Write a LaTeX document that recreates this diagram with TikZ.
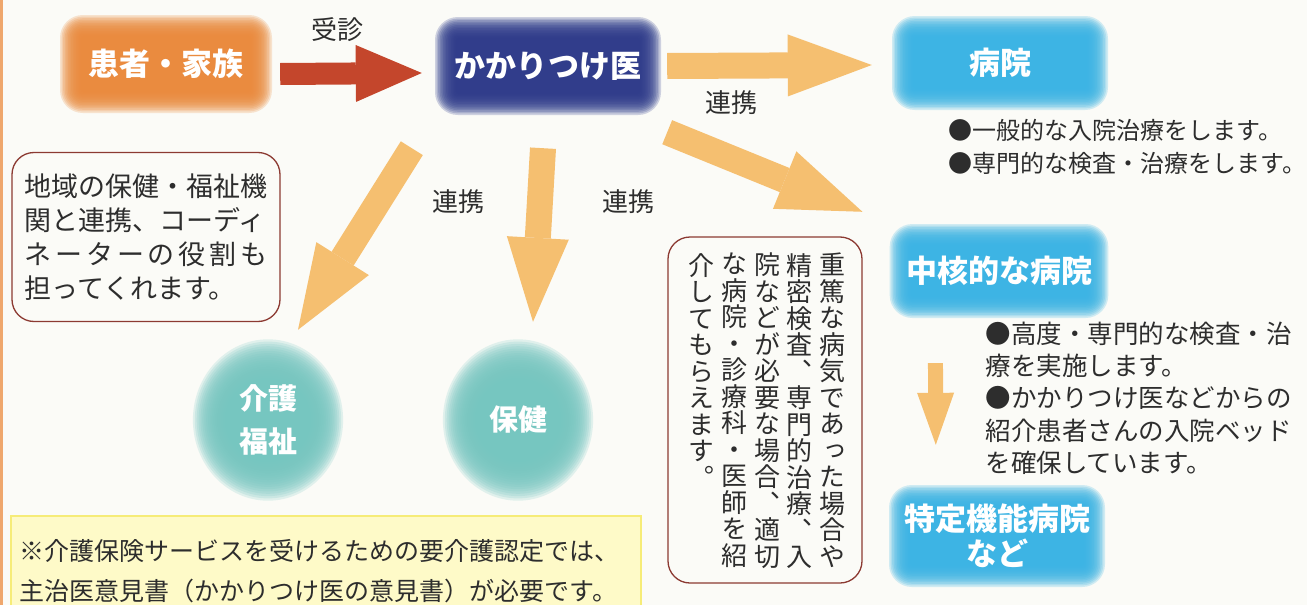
\documentclass[tikz,border=0pt]{standalone}
\usepackage{fontspec}
\setmainfont{Noto Sans CJK JP}
\newfontfamily\tate[RawFeature=+vert]{Noto Sans CJK JP}
\usepackage{tikz}
\usetikzlibrary{arrows.meta,positioning,calc,backgrounds}
\definecolor{pagebg}{RGB}{251,251,247}
\definecolor{famorange}{RGB}{234,138,60}
\definecolor{docnavy}{RGB}{44,58,138}
\definecolor{hospblue}{RGB}{58,180,228}
\definecolor{careteal}{RGB}{118,198,192}
\definecolor{linkorange}{RGB}{245,191,112}
\definecolor{visitred}{RGB}{196,70,44}
\definecolor{noteborder}{RGB}{140,58,50}
\definecolor{memofill}{RGB}{254,250,200}
\definecolor{memoborder}{RGB}{246,236,120}
\definecolor{inkgray}{RGB}{45,45,45}
% soft-edged fill behind a box or a disc
\newcommand{\glowbox}[2]{%
  \begin{scope}[on background layer]
    \foreach \k in {8,...,-5}{
      \pgfmathsetmacro{\rr}{max(3,10+1.6*\k)}
      \fill[#2,opacity=0.22,rounded corners=\rr pt]
        ([shift={(-1.6*\k,1.6*\k)}]#1.south west) rectangle ([shift={(1.6*\k,-1.6*\k)}]#1.north east);
    }
  \end{scope}}
\newcommand{\glowdisc}[2]{%
  \begin{scope}[on background layer]
    \foreach \k in {9,...,-8}{
      \fill[#2,opacity=0.2] (#1) ellipse ({58+1.9*\k} and {60+2.3*\k});
    }
  \end{scope}}
% one column of vertical text, top to bottom
\makeatletter
\newcommand{\tatecol}[1]{\@tfor\tatech:=#1\do{\tatech\\}}
\makeatother

\begin{document}
\begin{tikzpicture}[x=1pt,y=-1pt,
  pill/.style={
    rounded corners=8pt,
    minimum width=188,
    minimum height=68,
    text=white,
    align=center,
    font=\bfseries\fontsize{31}{35}\selectfont
  },
  familybox/.style={pill,minimum width=186,minimum height=72},
  doctorbox/.style={pill,minimum width=200,minimum height=72},
  hospbox/.style={pill,minimum width=190},
  disc/.style={circle,minimum size=116,text=white,align=center,
    font=\bfseries\fontsize{29}{43}\selectfont},
  note/.style={draw=noteborder,line width=1.3pt,rounded corners=22pt,fill=pagebg,text=inkgray},
  memo/.style={draw=memoborder,line width=1.5pt,fill=memofill,text=inkgray},
  label/.style={text=inkgray,font=\fontsize{26}{30}\selectfont},
  body/.style={text=inkgray,align=left},
  tatetext/.style={text=inkgray,anchor=north,align=center,inner sep=0pt,
    font=\tate\fontsize{26}{26.5}\selectfont},
  flow/.style={draw=linkorange,line width=26pt,-{Triangle[length=84pt,width=62pt,line width=0pt]}},
  visit/.style={draw=visitred,line width=22pt,-{Triangle[length=66pt,width=57pt,line width=0pt]}},
  onward/.style={draw=linkorange,line width=15pt,-{Triangle[length=52pt,width=37pt,line width=0pt]}}
]
\begin{scope}[on background layer]
  \fill[pagebg] (0,0) rectangle (1307,605);
  \fill[famorange!75] (0,0) rectangle (3,605);
\end{scope}
\useasboundingbox (0,0) rectangle (1307,605);

\node[familybox] (family) at (166,64) {患者・家族};
\node[doctorbox] (doctor) at (548,66) {かかりつけ医};
\node[hospbox] (hosp) at (1000,63) {病院};
\node[hospbox,minimum width=192] (core) at (999,271) {中核的な病院};
\node[hospbox,minimum height=76,inner sep=2pt] (special) at (997,536) {特定機能病院\\など};
\node[disc] (care) at (268,420) {介護\\福祉};
\node[disc] (health) at (518,420) {保健};
\glowbox{family}{famorange}
\glowbox{doctor}{docnavy}
\glowbox{hosp}{hospblue}
\glowbox{core}{hospblue}
\glowbox{special}{hospblue}
\glowdisc{care}{careteal}
\glowdisc{health}{careteal}

\node[label] (visitlabel) at (337,30) {受診};
\node[label] (linkhosp) at (731,103) {連携};
\node[label] (linkcare) at (458,202) {連携};
\node[label] (linkhealth) at (628,202) {連携};

\node[note,minimum width=268,minimum height=169,align=left,
  font=\fontsize{27}{34}\selectfont] (localnote) at (146,237)
  {地域の保健・福祉機\\関と連携、コーディ\\\makebox[243pt][s]{ネ\hfill ー\hfill タ\hfill ー\hfill の\hfill 役\hfill 割\hfill も}\\担ってくれます。};

% vertical note, columns read right to left
\node[note,minimum width=194,minimum height=346] (referral) at (765,410) {};
\node[tatetext] (referral1) at (832,253) {\tatecol{重篤な病気であった場合や}};
\node[tatetext] (referral2) at (799,253) {\tatecol{精密検査、専門的治療、入}};
\node[tatetext] (referral3) at (767,253) {\tatecol{院などが必要な場合、適切}};
\node[tatetext] (referral4) at (734,253) {\tatecol{な病院・診療科・医師を紹}};
\node[tatetext] (referral5) at (701,253) {\tatecol{介してもらえます。}};

\node[body,anchor=west,font=\fontsize{24}{33}\selectfont] (hospnote) at (945,147)
  {●一般的な入院治療をします。\\●専門的な検査・治療をします。};
\node[body,anchor=west,font=\fontsize{25.5}{32.3}\selectfont] (corenote) at (982,398)
  {●高度・専門的な検査・治\\療を実施します。\\●かかりつけ医などからの\\紹介患者さんの入院ベッド\\を確保しています。};

\node[memo,anchor=north west,minimum width=630,minimum height=110,text width=612,align=left,
  font=\fontsize{25}{40}\selectfont] (memo) at (10,515)
  {※介護保険サービスを受けるための要介護認定では、\\主治医意見書（かかりつけ医の意見書）が必要です。};

\draw[visit] ($(family.east)+(21,10)$) -- ($(doctor.west)+(-26,7)$);
\draw[flow] ($(doctor.east)+(19,0)$) -- ($(hosp.west)+(-33,2)$);
\draw[flow] ($(doctor.south east)+(19,30)$) -- ($(core.north west)+(-40,-25)$);
\draw[flow] ($(doctor.south west)+(-36,46)$) -- ($(care.north)+(30,-32)$);
\draw[flow] ($(doctor.south)+(-5,46)$) -- ($(health.north)+(15,-40)$);
\draw[onward] ($(core.south west)+(33,58)$) -- ($(special.north west)+(34,-53)$);
\end{tikzpicture}
\end{document}
